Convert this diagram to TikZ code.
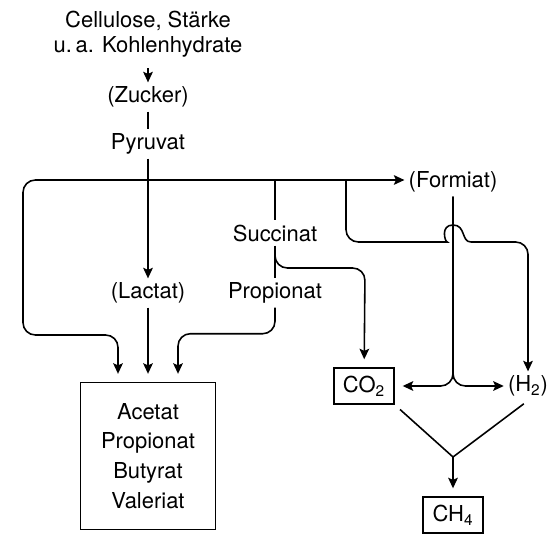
\documentclass[tikz,border=0pt]{standalone}
\usepackage{fontspec}
\setmainfont{TeX Gyre Heros}
\usetikzlibrary{arrows.meta, calc}

\begin{document}
\begin{tikzpicture}[
    x=0.02cm, y=-0.02cm,
    >={Stealth[length=6pt, width=5.5pt, inset=1.2pt]},
    line width=0.9pt,
    every node/.style={font=\fontsize{12.5}{14}\selectfont},
    stofftext/.style={inner sep=2pt, align=center},
    stoffbox/.style={rectangle, draw, line width=0.9pt, align=center, inner sep=0pt},
    feed/.style={->, shorten >=4.5pt},
    knick/.style={rounded corners=7pt}
  ]
    \useasboundingbox (0,0) rectangle (560,543);

    \node[stofftext] (quelle) at (148,34) {Cellulose, Stärke\\u.\,a. Kohlenhydrate};
    \node[stofftext] (zucker) at (148,97) {(Zucker)};
    \node[stofftext] (pyruvat) at (148,144) {Pyruvat};
    \node[stofftext] (lactat) at (148,293) {(Lactat)};
    \node[stofftext] (succinat) at (275,233) {Succinat};
    \node[stofftext] (propionat) at (275,293) {Propionat};
    \node[stofftext] (formiat) at (453,182) {(Formiat)};
    \node[stofftext] (h2) at (528,386) {(H\textsubscript{2})};
    \node[stoffbox, minimum width=2.7cm, minimum height=2.94cm, font=\fontsize{12.5}{17}\selectfont] (fettsaeuren) at (148,456) {Acetat\\Propionat\\Butyrat\\Valeriat};
    \node[stoffbox, minimum width=1.2cm, minimum height=0.72cm] (co2) at (364,386) {CO\textsubscript{2}};
    \node[stoffbox, minimum width=1.2cm, minimum height=0.72cm] (ch4) at (453,515) {CH\textsubscript{4}};

    \coordinate (abzweig) at (148,180);
    \coordinate (formiatab) at (346,180);
    \coordinate (co2knick) at (365,268);
    \coordinate (treffpunkt) at (453,457);

    % Pyruvat und Verzweigung
    \draw[->, shorten <=4pt] (quelle) -- (zucker);
    \draw (zucker) -- (pyruvat);
    \draw[->] (pyruvat) -- (lactat);
    \draw[->] (abzweig) -- (abzweig -| formiat.west);
    \draw[feed, knick] (abzweig) -| (23,335) -| ($(fettsaeuren.north)+(-30,0)$);
    \draw[feed] (lactat) -- (fettsaeuren);
    \draw (abzweig -| succinat) -- (succinat);
    \draw (succinat) -- (propionat);
    \draw[feed, knick] (propionat) |- ($(fettsaeuren.north)+(30,-48)$) -- ($(fettsaeuren.north)+(30,0)$);
    \draw[feed, knick, shorten <=2pt] (succinat.south) |- (co2knick) -- (co2);

    % Formiat, CO2 und H2
    \draw[->, knick] (formiatab) |- (435,242) [sharp corners]
        .. controls (445,242) and (440,225) .. (453,225)
        .. controls (466,225) and (461,242) .. (471,242) [knick] -| (h2.north);
    \draw[feed, knick] (formiat) |- (co2);
    \draw[->, knick] (formiat) |- (h2);

    % Methanbildung
    \draw[shorten <=4pt] (co2.south east) -- (treffpunkt);
    \draw[shorten <=3pt] (h2.south) -- (treffpunkt);
    \draw[feed] (treffpunkt) -- (ch4);
  \end{tikzpicture}
\end{document}
